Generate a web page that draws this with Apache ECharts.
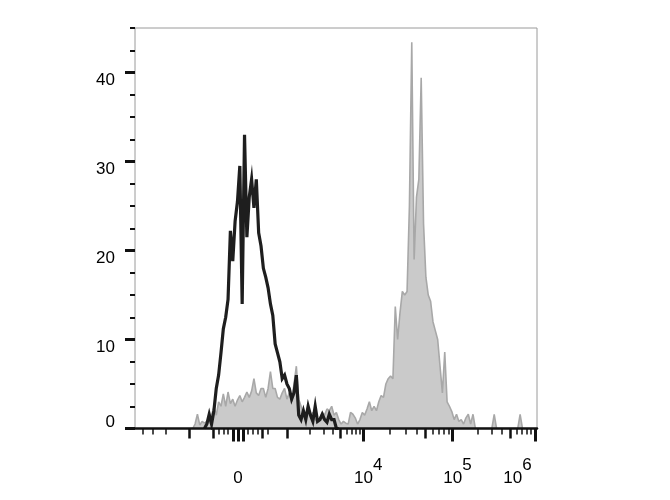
<!DOCTYPE html>
<html><head><meta charset="utf-8">
<script src="https://cdn.jsdelivr.net/npm/echarts@6/dist/echarts.min.js"></script>
<style>html,body{margin:0;padding:0;background:#fff}#c{width:670px;height:500px}</style>
</head><body><div id="c"></div>
<script>
// ---- data (histogram counts per display-channel bin) ----
const binWidth = 6;          // channels per bin (axis runs 0..1024 channels)
const blackStart = 174;      // first channel of unstained (black) histogram
const blackCounts = [0,0.5,1.6,0.5,2,4.5,6,8.5,11.2,12.5,14.5,22.2,18.8,23.3,25.5,29.5,14,33,21.5,26,28,24.8,28,22,20.5,18,17,15.8,14,12.7,9.5,8.5,7.5,5.6,6,5,4.5,3.3,4,6,1.5,1,2,1,2.5,1.5,0.8,2.5,0.8,1,1.6,1,0.7,1.6,1,1,0,0];
const greyStart = 138;       // first channel of stained (grey) histogram
const greyCounts = [0,0,0.5,1.6,0.4,0.8,0.6,0.8,0.6,1.5,2.4,1.5,3,2.5,3.9,2.5,4.1,2.8,3.3,2.5,3.2,3.7,3,3.5,4.1,3.5,4.2,5.6,4,3.7,4.5,4.5,3.5,4.5,6.4,4.5,4.5,3.5,3.3,4,4.5,3.3,4,3,5,7,3.3,2.5,1.5,1.4,2.5,1.5,1.8,1,0.8,1.2,1.8,1.5,2.2,2,2.5,1.5,1.8,1,0.5,0.8,0.6,0.5,1.8,1.6,1.2,0.5,1,1.8,1.5,2.2,3,2,2.5,2,3,3.7,3.5,5,5.6,5.9,5.6,13.7,10,13,15.4,15,15.4,25,43.4,19,26,28,39.4,23,17,15,14.3,12,11,10,7,4,8.6,3,2.5,1.9,1,1.6,0.8,1,0.5,1.2,1.6,0.5,1.6,0,0,0,0,0,0,0,0,1.6,0,0,0,0,0,0,0,0,0,0,1.6,0];

// ---- axis tick values ----
const yTickLabels = [0,10,20,30,40];
const yMinorTicks = [2.5,5,7.5,12.5,15,17.5,22.5,25,27.5,32.5,35,37.5,42.5,45];
const xLabelValues = [0,1e4,1e5,1e6];
const xMajorTicks = [-100,0,100,1e4,1e5,1e6];
const xMidTicks = [-500,500,-1000,1000,5000,5e4,5e5];
const xMinorTicks = [-4000,-3000,-2000,-400,-300,-200,200,300,400,600,2000,3000,4000,6000,7000,8000,9000,2e4,3e4,4e4,6e4,7e4,8e4,9e4,2e5,3e5,4e5,6e5,7e5,8e5,9e5];

// biexponential-like display scale: value -> channel
const ZERO_CH = 262.4, LIN_CH = 124.8;
const DEC_OFF = [124.8, 319.1, 546.4, 756.5]; // offsets at 1e3,1e4,1e5,1e6
function toCh(v){
  const a = Math.abs(v), s = v < 0 ? -1 : 1;
  let off;
  if (a <= 1000) off = a / 1000 * LIN_CH;
  else {
    const l = Math.log10(a);
    const k = Math.min(Math.floor(l) - 3, 2);
    off = DEC_OFF[k] + (l - 3 - k) * (DEC_OFF[k+1] - DEC_OFF[k]);
  }
  return ZERO_CH + s * off;
}

const FONT = 'Liberation Sans, Arial, sans-serif';
const INK = '#111';

function xFmt(val){
  let best = 0, bd = Infinity;
  xLabelValues.forEach((v,i)=>{ const d = Math.abs(toCh(v)-val); if (d < bd){bd = d; best = i;} });
  const v = xLabelValues[best];
  if (v === 0) return '{z|0}';
  const e = Math.round(Math.log10(v));
  if (best === xLabelValues.length - 1) return '{m|10}{t|' + e + '}';
  return '{n|10}{s|' + e + '}';
}
function yFmt(v){ return v === 0 ? '{z|0}' : '{d|' + v + '}'; }

const txt = {fontSize:17, fontFamily:FONT, color:'#000', lineHeight:18};
const chart = echarts.init(document.getElementById('c'), null, {renderer:'canvas'});
const baseX = {type:'value', min:0, max:1024, position:'bottom', z:10, splitLine:{show:false}};
const baseY = {type:'value', min:0, max:45, position:'left', z:10, splitLine:{show:false}, axisLine:{show:false}};
chart.setOption({
  animation:false,
  backgroundColor:'#fff',
  grid:{left:135, right:133, top:28, bottom:71.5, show:true, borderColor:'#9a9a9a', borderWidth:1},
  xAxis:[
    Object.assign({}, baseX, {
      axisLine:{show:true, lineStyle:{color:INK, width:2.5}},
      axisTick:{show:true, customValues:xMinorTicks.map(toCh), length:6, lineStyle:{color:INK, width:1.5}},
      axisLabel:{show:true, customValues:xLabelValues.map(toCh), margin:34, formatter:xFmt,
        rich:{
          z:Object.assign({}, txt, {padding:[13,0,0,0]}),
          n:Object.assign({}, txt, {padding:[13,0,0,10]}),
          s:Object.assign({}, txt, {padding:[0,0,13,0]}),
          m:Object.assign({}, txt, {padding:[13,0,0,0]}),
          t:Object.assign({}, txt, {padding:[0,35,13,0]})
        }}
    }),
    Object.assign({}, baseX, {
      axisLine:{show:false},
      axisTick:{show:true, customValues:xMidTicks.map(toCh), length:10, lineStyle:{color:INK, width:2.5}},
      axisLabel:{show:false}
    }),
    Object.assign({}, baseX, {
      axisLine:{show:false},
      axisTick:{show:true, customValues:xMajorTicks.map(toCh), length:13, lineStyle:{color:INK, width:3}},
      axisLabel:{show:false}
    })
  ],
  yAxis:[
    Object.assign({}, baseY, {
      axisTick:{show:true, customValues:yTickLabels, length:10, lineStyle:{color:INK, width:3}},
      axisLabel:{show:true, customValues:yTickLabels, margin:20, formatter:yFmt,
        rich:{
          z:Object.assign({}, txt, {padding:[0,0,12,0]}),
          d:Object.assign({}, txt, {padding:[16,0,0,0]})
        }}
    }),
    Object.assign({}, baseY, {
      axisTick:{show:true, customValues:yMinorTicks, length:5, lineStyle:{color:INK, width:2}},
      axisLabel:{show:false}
    })
  ],
  series:[
    {type:'line', xAxisIndex:0, yAxisIndex:0, symbol:'none', z:2,
     data:greyCounts.map((c,i)=>[greyStart + binWidth*(i+0.5), c]),
     lineStyle:{color:'#a8a8a8', width:1.6}, areaStyle:{color:'#cacaca', opacity:1}},
    {type:'line', xAxisIndex:0, yAxisIndex:0, symbol:'none', z:3,
     data:blackCounts.map((c,i)=>[blackStart + binWidth*(i+0.5), c]),
     lineStyle:{color:'#1e1e1e', width:3.2, join:'miter'}}
  ]
});
</script></body></html>
